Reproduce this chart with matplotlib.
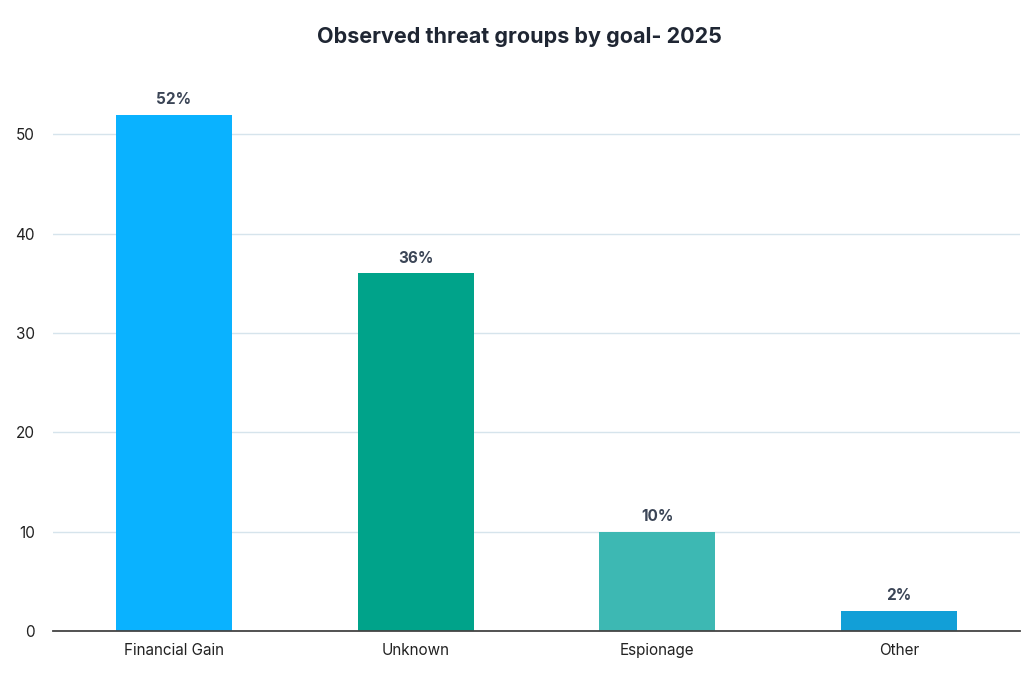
import matplotlib
matplotlib.use('Agg')
import matplotlib.pyplot as plt

categories = ['Financial Gain', 'Unknown', 'Espionage', 'Other']
values = [52, 36, 10, 2]
labels = ['52%', '36%', '10%', '2%']
colors = ['#0AB2FF', '#00A38A', '#3DB8B3', '#129FD7']

plt.rcParams['font.family'] = ['Inter', 'DejaVu Sans']

fig = plt.figure(figsize=(10.24, 6.76), dpi=100)
ax = fig.add_axes([0.0518, 0.0666, 0.9442, 0.808])

bars = ax.bar(range(len(categories)), values, width=0.48, color=colors, zorder=3)
for b, lab in zip(bars, labels):
    ax.text(b.get_x() + b.get_width() / 2, b.get_height() + 0.8, lab,
            ha='center', va='bottom', fontsize=11, fontweight='bold', color='#3b4556')

ax.set_xlim(-0.5, 3.5)
ax.set_ylim(0, 55)
ax.set_yticks([0, 10, 20, 30, 40, 50])
ax.set_xticks(range(len(categories)))
ax.set_xticklabels(categories)
ax.grid(axis='y', color='#d6e4ec', linewidth=1, zorder=0)
ax.tick_params(axis='both', length=0, labelsize=11, colors='#222222')
ax.tick_params(axis='x', pad=9)
ax.tick_params(axis='y', pad=13)
for s in ['top', 'right', 'left']:
    ax.spines[s].set_visible(False)
ax.spines['bottom'].set_color('#444444')
ax.spines['bottom'].set_linewidth(1.3)
ax.spines['bottom'].set_zorder(4)

fig.text(0.507, 0.946, 'Observed threat groups by goal- 2025', ha='center', va='center',
         fontsize=15.5, fontweight='bold', color='#1f2633')

fig.savefig('out.png', dpi=100)
